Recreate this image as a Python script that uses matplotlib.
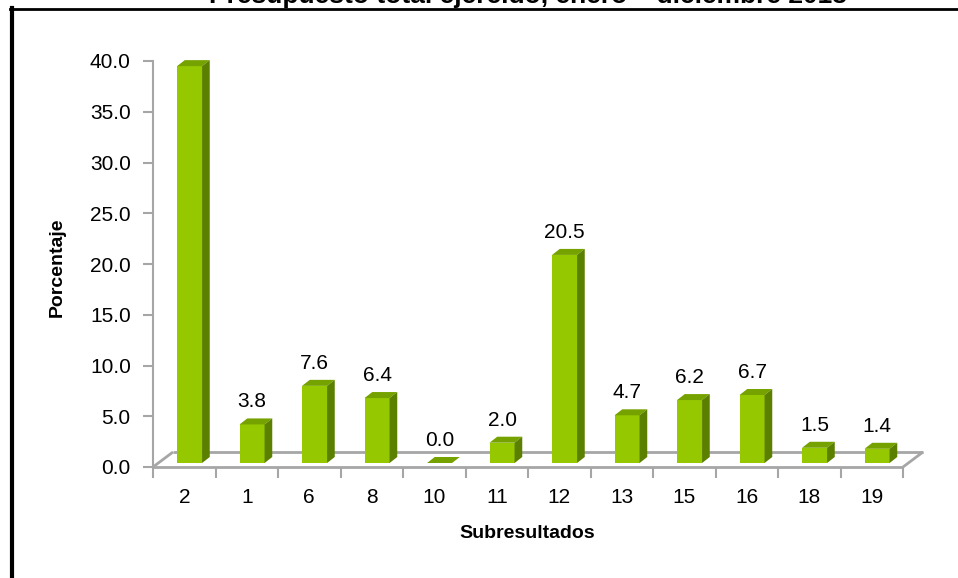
import matplotlib
matplotlib.use("Agg")
import matplotlib.pyplot as plt
from matplotlib.patches import Polygon
from matplotlib.lines import Line2D

# data
categories = ["2", "1", "6", "8", "10", "11", "12", "13", "15", "16", "18", "19"]
values = [39.1, 3.8, 7.6, 6.4, 0.0, 2.0, 20.5, 4.7, 6.2, 6.7, 1.5, 1.4]
y_ticks = [0, 5, 10, 15, 20, 25, 30, 35, 40]

title = "Presupuesto total ejercido, enero \u2013 diciembre 2013"
x_title = "Subresultados"
y_title = "Porcentaje"

FRONT = "#96C800"
TOP = "#76A200"
SIDE = "#5B8000"
GRID = "#A6A6A6"
FONT = ["Liberation Sans", "DejaVu Sans"]

W, H = 958, 578
fig = plt.figure(figsize=(W / 100, H / 100), dpi=100)

# axes placed in pixel terms (front plane of the 3D box)
x0, x1 = 153, 903
y0, y1 = 467, 61
ax = fig.add_axes([x0 / W, 1 - y0 / H, (x1 - x0) / W, (y0 - y1) / H])
n = len(categories)
ax.set_xlim(0, n)
ax.set_ylim(0, 40)

px_x = n / (x1 - x0)      # data units per pixel
px_y = 40 / (y0 - y1)

# depth of the floor and bar placement inside it (pixels)
floor_dx, floor_dy = 20 * px_x, 15 * px_y
bar_fx, bar_fy = 5.3 * px_x, 4 * px_y
bar_dx, bar_dy = 7.7 * px_x, 6 * px_y
bar_w = 0.4

for s in ["top", "right", "left", "bottom"]:
    ax.spines[s].set_visible(False)

# floor
floor_kw = dict(color=GRID, lw=2, clip_on=False, zorder=1, solid_capstyle="butt")
ax.plot([0, n], [0, 0], **floor_kw)
ax.plot([floor_dx, n + floor_dx], [floor_dy, floor_dy], **floor_kw)
ax.plot([0, floor_dx], [0, floor_dy], **floor_kw)
ax.plot([n, n + floor_dx], [0, floor_dy], **floor_kw)
ax.plot([0, 0], [0, 40], color=GRID, lw=1.5, clip_on=False, zorder=1)

# bars
xs = [i + 0.5 + bar_fx for i in range(n)]
ax.bar(xs, values, width=bar_w, bottom=bar_fy, color=FRONT, zorder=3,
       clip_on=False, linewidth=0)
for x, v in zip(xs, values):
    xl, xr = x - bar_w / 2, x + bar_w / 2
    top = bar_fy + v
    ax.add_patch(Polygon([(xl, top), (xr, top), (xr + bar_dx, top + bar_dy),
                          (xl + bar_dx, top + bar_dy)], closed=True,
                         facecolor=TOP, edgecolor="none", zorder=3, clip_on=False))
    if v > 0:
        ax.add_patch(Polygon([(xr, bar_fy), (xr, top), (xr + bar_dx, top + bar_dy),
                              (xr + bar_dx, bar_fy + bar_dy)], closed=True,
                             facecolor=SIDE, edgecolor="none", zorder=3, clip_on=False))
    ax.annotate(f"{v:.1f}", (x, top + bar_dy), xytext=(0, 5), textcoords="offset points",
                ha="center", va="bottom", fontsize=15, family=FONT, clip_on=False)

# ticks
ax.set_yticks(y_ticks)
ax.set_yticklabels([f"{t:.1f}" for t in y_ticks], family=FONT, fontsize=15)
ax.tick_params(axis="y", length=7, width=1.5, color=GRID, pad=9)

ax.set_xticks(range(n + 1))
ax.set_xticklabels([])
ax.set_xticks([i + 0.5 for i in range(n)], minor=True)
ax.set_xticklabels(categories, minor=True, family=FONT, fontsize=15)
ax.tick_params(axis="x", which="major", length=8, width=1.5, color=GRID)
ax.tick_params(axis="x", which="minor", length=0, pad=15)

# axis titles
fig.text(57 / W, 1 - 267 / H, y_title, rotation=90, ha="center", va="center",
         fontsize=14, fontweight="bold", family=FONT)
fig.text(527 / W, 1 - 533 / H, x_title, ha="center", va="center",
         fontsize=14, fontweight="bold", family=FONT)

# chart title, cut off at top of picture as in the source
fig.text(528 / W, 1 - 3 / H, title, ha="center", va="baseline",
         fontsize=19, fontweight="bold", family=FONT)

# outer frame (top and left edges)
fig.add_artist(Line2D([10 / W, 1], [1 - 9 / H, 1 - 9 / H], color="black", lw=2,
                      transform=fig.transFigure))
fig.add_artist(Line2D([11.5 / W, 11.5 / W], [1 - 8 / H, 0], color="black", lw=3,
                      transform=fig.transFigure))

fig.savefig("out.png", dpi=100)
